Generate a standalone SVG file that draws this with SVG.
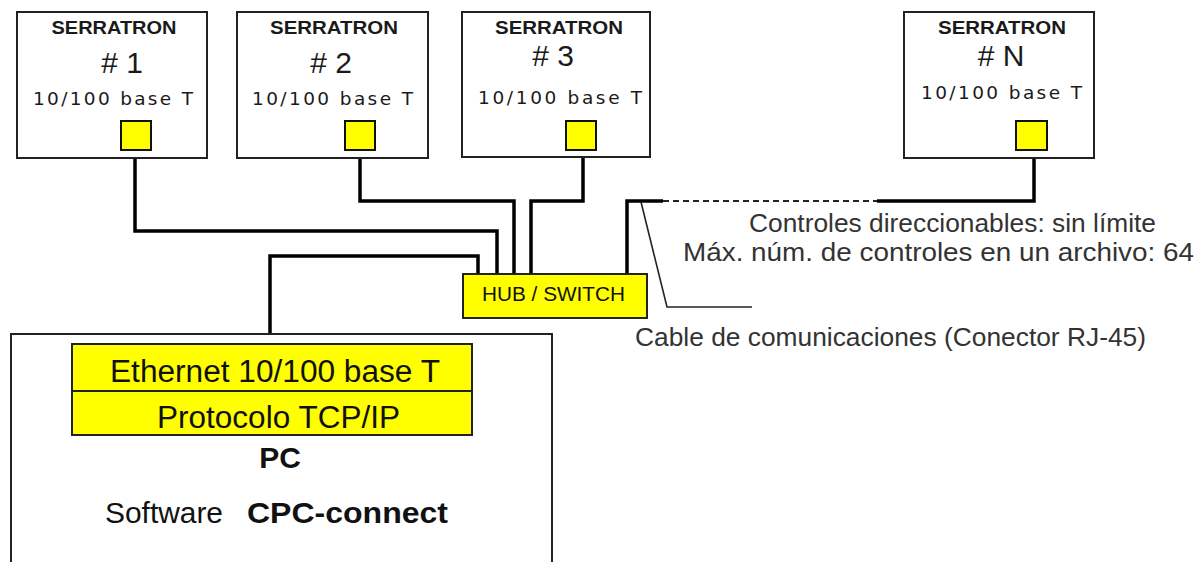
<svg xmlns="http://www.w3.org/2000/svg" width="1197" height="562" viewBox="0 0 1197 562">
<style>
.box{fill:#fff;stroke:#222;stroke-width:2}
.port{fill:#ffff00;stroke:#111;stroke-width:2}
.ybox{fill:#ffff00;stroke:#222;stroke-width:2}
.wire{fill:none;stroke:#000;stroke-width:3.5}
.dash{fill:none;stroke:#222;stroke-width:2;stroke-dasharray:6 4}
.lead{fill:none;stroke:#222;stroke-width:1.6}
.ser{font-family:"Liberation Sans",Arial,sans-serif;font-weight:bold;font-size:18px;fill:#1a1a1a}
.num{font-family:"Liberation Sans",Arial,sans-serif;font-size:30px;fill:#1a1a1a}
.base{font-family:"DejaVu Sans",Verdana,sans-serif;font-size:18.5px;fill:#1a1a1a}
.lbl{font-family:"Liberation Sans",Arial,sans-serif;font-size:26px;fill:#333}
.big{font-family:"Liberation Sans",Arial,sans-serif;font-size:31px;fill:#111}
.hub{font-family:"Liberation Sans",Arial,sans-serif;font-size:20px;fill:#111}
.pc{font-family:"Liberation Sans",Arial,sans-serif;font-size:30px;fill:#111}
</style>

<g id="connectors">
  <polyline class="wire" points="135,150 135,231 497,231 497,274"/>
  <polyline class="wire" points="360,150 360,201 514,201 514,274"/>
  <polyline class="wire" points="583,150 583,201 531,201 531,274"/>
  <polyline class="wire" points="270,344 270,256 478,256 478,274"/>
  <polyline class="wire" points="627,274 627,201 663,201"/>
  <line class="dash" x1="663" y1="201" x2="877" y2="201"/>
  <polyline class="wire" points="877,201 1034,201 1034,150"/>
  <polyline class="lead" points="641,202 667,307 752,307"/>
</g>

<g id="serratron1">
  <rect class="box" x="17" y="12" width="190" height="146"/>
  <text class="ser" x="114" y="34" text-anchor="middle" textLength="125" lengthAdjust="spacingAndGlyphs">SERRATRON</text>
  <text class="num" x="122" y="73" text-anchor="middle">#&#160;1</text>
  <text class="base" x="33" y="105" textLength="160" lengthAdjust="spacing">10/100 base T</text>
  <rect class="port" x="121" y="121" width="30" height="29"/>
</g>

<g id="serratron2">
  <rect class="box" x="237" y="12" width="191" height="146"/>
  <text class="ser" x="334" y="34" text-anchor="middle" textLength="128" lengthAdjust="spacingAndGlyphs">SERRATRON</text>
  <text class="num" x="331" y="73" text-anchor="middle">#&#160;2</text>
  <text class="base" x="252" y="105" textLength="161" lengthAdjust="spacing">10/100 base T</text>
  <rect class="port" x="345" y="121" width="30" height="29"/>
</g>

<g id="serratron3">
  <rect class="box" x="462" y="12" width="188" height="145"/>
  <text class="ser" x="559" y="34" text-anchor="middle" textLength="128" lengthAdjust="spacingAndGlyphs">SERRATRON</text>
  <text class="num" x="553" y="66" text-anchor="middle">#&#160;3</text>
  <text class="base" x="478" y="104" textLength="164" lengthAdjust="spacing">10/100 base T</text>
  <rect class="port" x="566" y="121" width="30" height="29"/>
</g>

<g id="serratronN">
  <rect class="box" x="904" y="12" width="190" height="146"/>
  <text class="ser" x="1002" y="34" text-anchor="middle" textLength="128" lengthAdjust="spacingAndGlyphs">SERRATRON</text>
  <text class="num" x="1001" y="66" text-anchor="middle">#&#160;N</text>
  <text class="base" x="921" y="99" textLength="161" lengthAdjust="spacing">10/100 base T</text>
  <rect class="port" x="1016" y="121" width="31" height="29"/>
</g>

<g id="hub">
  <rect class="ybox" x="463" y="274" width="184" height="44"/>
  <text class="hub" x="553.5" y="301" text-anchor="middle" textLength="143" lengthAdjust="spacingAndGlyphs">HUB / SWITCH</text>
</g>

<g id="pc">
  <rect class="box" x="11" y="334" width="541" height="240"/>
  <rect class="ybox" x="72" y="344" width="400" height="47"/>
  <rect class="ybox" x="72" y="391" width="400" height="44"/>
  <text class="big" x="275" y="382" text-anchor="middle" textLength="330" lengthAdjust="spacingAndGlyphs">Ethernet 10/100 base T</text>
  <text class="big" x="278.5" y="428" text-anchor="middle" textLength="243" lengthAdjust="spacingAndGlyphs">Protocolo TCP/IP</text>
  <text class="pc" x="280" y="468" text-anchor="middle" font-weight="bold">PC</text>
  <text class="pc" x="105" y="523" textLength="118" lengthAdjust="spacingAndGlyphs">Software</text>
  <text class="pc" x="247" y="523" font-weight="bold" textLength="201" lengthAdjust="spacingAndGlyphs">CPC-connect</text>
</g>

<g id="labels">
  <text class="lbl" x="749" y="232" textLength="407" lengthAdjust="spacingAndGlyphs">Controles direccionables: sin límite</text>
  <text class="lbl" x="683" y="261" textLength="511" lengthAdjust="spacingAndGlyphs">Máx. núm. de controles en un archivo: 64</text>
  <text class="lbl" x="635" y="346" textLength="511" lengthAdjust="spacingAndGlyphs">Cable de comunicaciones (Conector RJ-45)</text>
</g>
</svg>
